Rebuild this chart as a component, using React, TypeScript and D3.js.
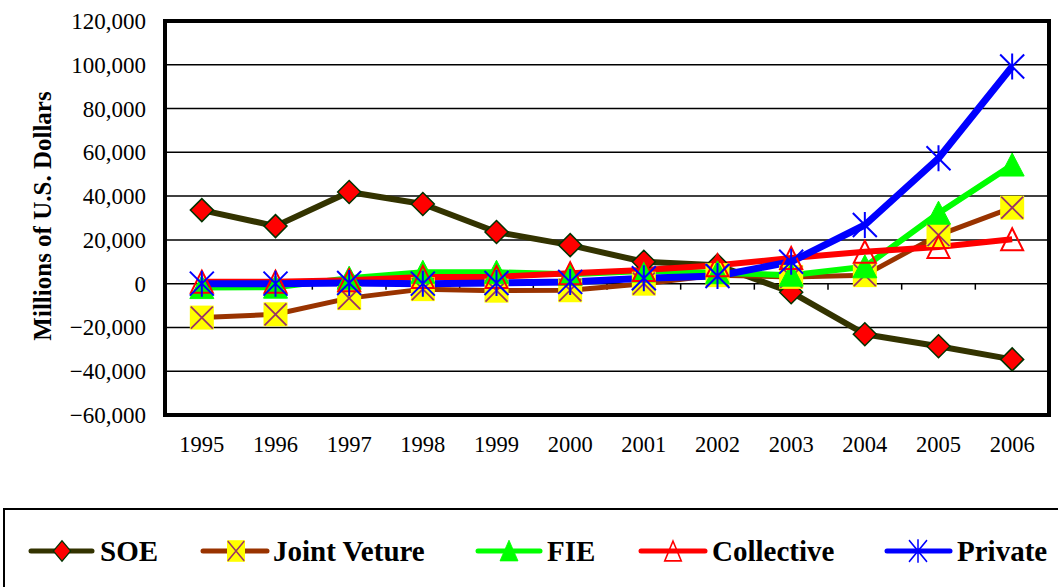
import React from "react";
import * as d3 from "d3";

const years = ["1995","1996","1997","1998","1999","2000","2001","2002","2003","2004","2005","2006"];
const soe = [33600, 26300, 41900, 36400, 23600, 17600, 10000, 8400, -3900, -23100, -28600, -34600];
const jointVenture = [-15500, -14000, -6600, -2500, -3200, -3000, 0, 3900, 3100, 3900, 22200, 34700];
const fie = [-1800, -1600, 2500, 5200, 5200, 4300, 5800, 5000, 3900, 7700, 32200, 54200];
const collective = [900, 900, 1600, 3100, 3100, 4800, 6200, 8400, 11700, 14600, 16800, 20300];
const privateSector = [0, 0, 300, 0, 300, 800, 2500, 3500, 10000, 26800, 57300, 99200];
const yTicks = [-60000, -40000, -20000, 0, 20000, 40000, 60000, 80000, 100000, 120000];
const seriesNames = ["SOE", "Joint Veture", "FIE", "Collective", "Private"];

const FAM = "'Liberation Serif', 'Times New Roman', serif";

const W = 1058, H = 587;
const plot = { left: 165, right: 1049, top: 21, bottom: 415 };

type Kind = "diamond" | "square" | "triFill" | "triOpen" | "star";

const series: { name: string; values: number[]; color: string; width: number; kind: Kind }[] = [
  { name: seriesNames[0], values: soe, color: "#333300", width: 6, kind: "diamond" },
  { name: seriesNames[1], values: jointVenture, color: "#993300", width: 5, kind: "square" },
  { name: seriesNames[2], values: fie, color: "#00ff00", width: 6, kind: "triFill" },
  { name: seriesNames[3], values: collective, color: "#ff0000", width: 6, kind: "triOpen" },
  { name: seriesNames[4], values: privateSector, color: "#0000ff", width: 7, kind: "star" },
];

function Marker({ kind, x, y, sx = 1, sy = 1 }: { kind: Kind; x: number; y: number; sx?: number; sy?: number }) {
  const t = `translate(${x},${y}) scale(${sx},${sy})`;
  if (kind === "diamond") {
    return <path transform={t} d="M0,-11.5L11.5,0L0,11.5L-11.5,0Z" fill="#ff0000" stroke="#003300" strokeWidth={1.5} />;
  }
  if (kind === "square") {
    return (
      <g transform={t}>
        <rect x={-12} y={-12} width={24} height={24} fill="#ffff00" />
        <path d="M-11,-11L11,11M11,-11L-11,11" stroke="#993366" strokeWidth={1.8} />
      </g>
    );
  }
  if (kind === "triFill") {
    return <path transform={t} d="M0,-12L12,11L-12,11Z" fill="#00ff00" stroke="#00ff00" strokeWidth={1} />;
  }
  if (kind === "triOpen") {
    return <path transform={t} d="M0,-11L11,11L-11,11Z" fill="none" stroke="#ff0000" strokeWidth={2} />;
  }
  return (
    <path transform={t} d="M-12,-12L12,12M12,-12L-12,12M0,-13L0,13" stroke="#0000ff" strokeWidth={2} fill="none" />
  );
}

export default function App() {
  const x = d3.scaleBand<string>().domain(years).range([plot.left, plot.right]);
  const y = d3.scaleLinear().domain([-60000, 120000]).range([plot.bottom, plot.top]);
  const cx = (yr: string) => (x(yr) as number) + x.bandwidth() / 2;
  const line = d3
    .line<number>()
    .x((_, i) => cx(years[i]))
    .y((v) => y(v));
  const fmt = d3.format(",");

  const legendItems = [
    { lineStart: 31, lineEnd: 92, mark: 62, text: 100 },
    { lineStart: 203, lineEnd: 267, mark: 236, text: 273 },
    { lineStart: 478, lineEnd: 540, mark: 509, text: 547 },
    { lineStart: 641, lineEnd: 705, mark: 673, text: 712 },
    { lineStart: 887, lineEnd: 950, mark: 918, text: 957 },
  ];
  const legendY = 551;

  return (
    <svg width={W} height={H} style={{ position: "absolute", left: 0, top: 0, background: "#fff" }}>
      <rect x={0} y={0} width={W} height={H} fill="#fff" />
      {yTicks.map((t) => (
        <line key={t} x1={plot.left} x2={plot.right} y1={y(t)} y2={y(t)} stroke="#000" strokeWidth={1.5} />
      ))}
      {years.slice(1).map((yr) => (
        <line key={yr} x1={x(yr) as number} x2={x(yr) as number} y1={y(0)} y2={y(0) + 6} stroke="#000" strokeWidth={1.5} />
      ))}
      {yTicks.map((t) => (
        <text key={t} x={146} y={y(t) + 8} textAnchor="end" fontSize={23} fill="#000" style={{ fontFamily: FAM }}>
          {fmt(t)}
        </text>
      ))}
      {years.map((yr) => (
        <text key={yr} x={cx(yr)} y={452} textAnchor="middle" fontSize={22.5} fill="#000" style={{ fontFamily: FAM }}>
          {yr}
        </text>
      ))}
      <text
        transform={`translate(51,216) rotate(-90)`}
        textAnchor="middle"
        fontSize={25}
        fontWeight="bold"
        fill="#000"
        style={{ fontFamily: FAM }}
      >
        Millions of U.S. Dollars
      </text>
      {series.map((s) => (
        <path key={s.name} d={line(s.values) as string} fill="none" stroke={s.color} strokeWidth={s.width} strokeLinejoin="round" />
      ))}
      {series.map((s) => (
        <g key={s.name + "m"}>
          {s.values.map((v, i) => (
            <Marker key={i} kind={s.kind} x={cx(years[i])} y={y(v)} />
          ))}
        </g>
      ))}
      <rect x={plot.left} y={plot.top} width={plot.right - plot.left} height={plot.bottom - plot.top} fill="none" stroke="#000" strokeWidth={4} />
      <rect x={4} y={509} width={1070} height={120} fill="none" stroke="#000" strokeWidth={2} />
      {series.map((s, i) => {
        const L = legendItems[i];
        return (
          <g key={s.name + "l"}>
            <line x1={L.lineStart} x2={L.lineEnd} y1={legendY} y2={legendY} stroke={s.color} strokeWidth={5} strokeLinecap="round" />
            <Marker kind={s.kind} x={L.mark} y={legendY} sx={0.75} sy={0.9} />
            <text x={L.text} y={legendY + 10} fontSize={29} fontWeight="bold" fill="#000" style={{ fontFamily: FAM }}>
              {s.name}
            </text>
          </g>
        );
      })}
    </svg>
  );
}
